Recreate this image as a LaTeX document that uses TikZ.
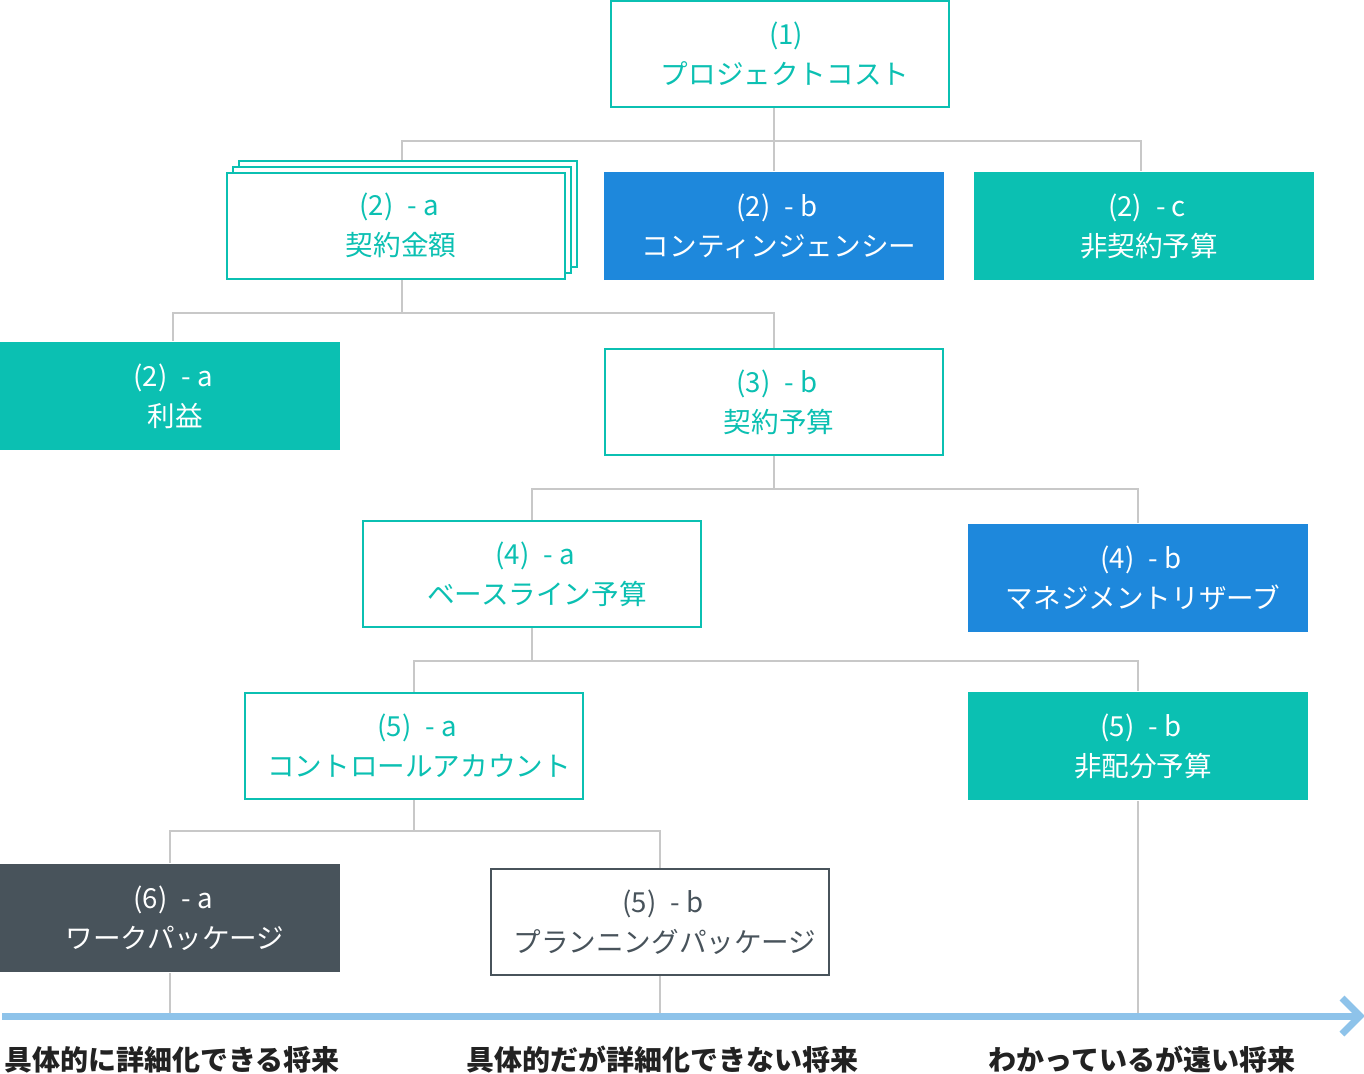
\documentclass[tikz,border=0pt]{standalone}
\usepackage{fontspec}
\setmainfont{Noto Sans CJK JP}
\usetikzlibrary{backgrounds}
\definecolor{teal1}{HTML}{0BC0B2}
\definecolor{blue1}{HTML}{1E88DC}
\definecolor{dark1}{HTML}{48535B}
\definecolor{gray1}{HTML}{C8C8C8}
\definecolor{axis1}{HTML}{8EC3EA}
\definecolor{lbltext}{HTML}{222222}
\newcommand{\twol}[2]{\hspace*{3pt}#1\\\hspace*{5pt}#2}
\newcommand{\numl}[2]{(#1)\hspace{7pt}- #2}
\begin{document}
\begin{tikzpicture}[x=0.5pt,y=-0.5pt,
 box/.style={rectangle, inner sep=0pt, align=center, font=\fontsize{13.8}{20}\selectfont, line width=1pt},
 obox/.style={box, minimum width=169pt, minimum height=53pt, draw=teal1, fill=white, text=teal1},
 gbox/.style={box, minimum width=169pt, minimum height=53pt, draw=dark1, fill=white, text=dark1},
 fbox/.style={box, minimum width=170pt, minimum height=54pt, text=white},
 conn/.style={draw=gray1, line width=1pt},
 axisline/.style={draw=axis1, line width=3.5pt},
 lbl/.style={inner sep=0pt, anchor=west, font=\fontsize{14}{16}\selectfont\bfseries, text=lbltext}]
\useasboundingbox (0,0) rectangle (1364,1073);

\node[obox] (n1) at (780,54) {\twol{\hspace*{3pt}(1)}{プロジェクトコスト}};

\node[obox] (n2aback) at (408,213.5) {};
\node[obox] (n2amid) at (402,219.5) {};
\node[obox] (n2a) at (396,225.5) {\twol{\numl{2}{a}}{契約金額}};
\node[fbox, fill=blue1] (n2b) at (774,226) {\twol{\numl{2}{b}}{コンティンジェンシー}};
\node[fbox, fill=teal1] (n2c) at (1144,226) {\twol{\numl{2}{c}}{非契約予算}};

\node[fbox, fill=teal1] (n2p) at (170,396) {\twol{\numl{2}{a}}{利益}};
\node[obox] (n3b) at (774,402) {\twol{\numl{3}{b}}{契約予算}};

\node[obox] (n4a) at (532,574) {\twol{\numl{4}{a}}{ベースライン予算}};
\node[fbox, fill=blue1] (n4b) at (1138,578) {\twol{\numl{4}{b}}{マネジメントリザーブ}};

\node[obox] (n5a) at (414,746) {\twol{\numl{5}{a}}{コントロールアカウント}};
\node[fbox, fill=teal1] (n5b) at (1138,746) {\twol{\numl{5}{b}}{非配分予算}};

\node[fbox, fill=dark1] (n6a) at (170,918) {\twol{\numl{6}{a}}{ワークパッケージ}};
\node[gbox] (n5p) at (660,922) {\twol{\numl{5}{b}}{プランニングパッケージ}};

\coordinate (axL) at (2,1016);
\coordinate (axR) at (1358,1016);
\coordinate (b1) at (0,141);
\coordinate (b2) at (0,313);
\coordinate (b3) at (0,489);
\coordinate (b4) at (0,661);
\coordinate (b5) at (0,831);

\node[lbl] (l1) at (4,1060) {具体的に詳細化できる将来};
\node[lbl] (l2) at (466,1060) {具体的だが詳細化できない将来};
\node[lbl] (l3) at (988,1060) {わかっているが遠い将来};

\begin{scope}[on background layer]
\fill[white] (0,0) rectangle (1364,1073);
% level 1
\draw[conn] (n1.south -| n2b) -- (n2b.north);
\draw[conn] (n2amid.north) |- ([xshift=-1.5pt]n2c.north |- b1) -- ([xshift=-1.5pt]n2c.north);
% level 2
\draw[conn] (n2amid.south) -- (n2amid.south |- b2);
\draw[conn] ([xshift=1.5pt]n2p.north) |- (n3b.north |- b2) -- (n3b.north);
% level 3
\draw[conn] (n3b.south) -- (n3b.south |- b3);
\draw[conn] (n4a.north) |- (n4b.north |- b3) -- (n4b.north);
% level 4
\draw[conn] (n4a.south) -- (n4a.south |- b4);
\draw[conn] (n5a.north) |- (n5b.north |- b4) -- (n5b.north);
% level 5
\draw[conn] (n5a.south) -- (n5a.south |- b5);
\draw[conn] (n6a.north) |- (n5p.north |- b5) -- (n5p.north);
% drops to axis
\draw[conn] (n6a.south) -- (n6a.south |- axL);
\draw[conn] (n5p.south) -- (n5p.south |- axL);
\draw[conn] (n5b.south) -- (n5b.south |- axL);
\end{scope}

\draw[axisline] (axL) -- (axR);
\draw[axisline, line join=miter] (1342,998) -- (1360,1016) -- (1342,1034);
\end{tikzpicture}
\end{document}
